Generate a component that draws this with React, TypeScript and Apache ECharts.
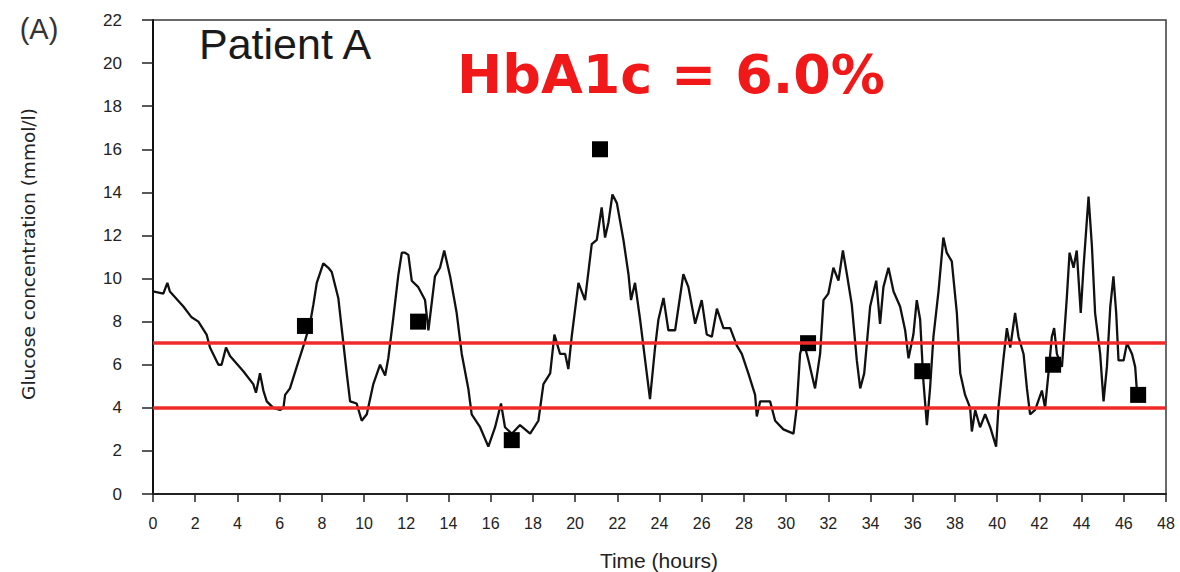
import React, { useEffect, useRef } from "react";
import * as echarts from "echarts";

const xTicks = [0, 48, 2];
const yTicks = [0, 22, 2];

const cgmHours = [
  0.0, 0.49, 0.68, 0.8, 1.44, 1.83, 2.15, 2.54, 2.7, 3.1, 3.25, 3.46, 3.65, 4.28, 4.75, 4.88, 5.07, 5.23, 5.39, 5.7,
  6.02, 6.18, 6.26, 6.49, 6.81, 7.2, 7.44, 7.6, 7.76, 8.07, 8.31, 8.47, 8.78, 8.94, 9.18, 9.34, 9.65, 9.89, 10.13,
  10.44, 10.76, 11.0, 11.15, 11.39, 11.63, 11.79, 11.94, 12.1, 12.26, 12.57, 12.89, 13.05, 13.36, 13.6, 13.8, 14.08,
  14.39, 14.63, 14.94, 15.1, 15.5, 15.89, 16.21, 16.49, 16.68, 17.0, 17.39, 17.87, 18.26, 18.5, 18.82, 19.02, 19.29,
  19.53, 19.68, 19.84, 20.16, 20.47, 20.79, 21.03, 21.26, 21.42, 21.58, 21.77, 21.98, 22.29, 22.53, 22.65, 22.84,
  23.08, 23.32, 23.55, 23.79, 23.95, 24.19, 24.42, 24.74, 25.13, 25.37, 25.69, 26.0, 26.24, 26.48, 26.72, 27.03,
  27.35, 27.66, 27.9, 28.21, 28.53, 28.61, 28.77, 29.24, 29.48, 29.87, 30.35, 30.5, 30.66, 30.82, 31.06, 31.37,
  31.61, 31.77, 32.0, 32.24, 32.48, 32.69, 32.88, 33.11, 33.35, 33.51, 33.7, 33.98, 34.27, 34.45, 34.61, 34.85,
  35.09, 35.4, 35.64, 35.8, 36.03, 36.19, 36.35, 36.5, 36.67, 36.82, 36.98, 37.22, 37.45, 37.61, 37.85, 38.09,
  38.25, 38.48, 38.72, 38.8, 38.96, 39.19, 39.43, 39.67, 39.95, 40.06, 40.3, 40.46, 40.62, 40.85, 41.01, 41.25,
  41.41, 41.56, 41.8, 42.12, 42.27, 42.43, 42.59, 42.7, 42.83, 43.07, 43.3, 43.43, 43.62, 43.77, 43.96, 44.09,
  44.33, 44.49, 44.64, 44.88, 45.04, 45.2, 45.36, 45.51, 45.64, 45.75, 45.99, 46.15, 46.39, 46.54, 46.62, 46.78,
];

const cgmGlucose = [
  9.4, 9.3, 9.8, 9.4, 8.7, 8.2, 8.0, 7.4, 6.8, 6.0, 6.0, 6.8, 6.4, 5.7, 5.1, 4.7, 5.6, 4.8, 4.3, 4.0,
  3.9, 4.0, 4.6, 4.9, 5.9, 7.1, 7.9, 8.8, 9.8, 10.7, 10.5, 10.3, 9.1, 7.7, 5.6, 4.3, 4.2, 3.4, 3.7,
  5.1, 6.0, 5.5, 6.3, 8.2, 10.2, 11.2, 11.2, 11.1, 9.9, 9.6, 9.0, 7.6, 10.1, 10.5, 11.3, 10.1,
  8.4, 6.5, 4.9, 3.7, 3.1, 2.2, 3.1, 4.2, 3.1, 2.8, 3.2, 2.8, 3.4, 5.1, 5.6, 7.4, 6.5,
  6.5, 5.8, 7.3, 9.8, 9.0, 11.6, 11.8, 13.3, 11.9, 12.6, 13.9, 13.5, 11.8, 10.2, 9.0, 9.8,
  8.1, 6.2, 4.4, 6.8, 8.1, 9.1, 7.6, 7.6, 10.2, 9.6, 7.9, 9.0, 7.4, 7.3, 8.6, 7.7,
  7.7, 6.9, 6.5, 5.6, 4.6, 3.6, 4.3, 4.3, 3.4, 3.0, 2.8, 4.0, 6.5, 7.1, 6.2, 4.9,
  6.5, 9.0, 9.3, 10.5, 9.9, 11.3, 10.2, 8.8, 6.2, 4.9, 5.6, 8.7, 9.9, 7.9, 9.6, 10.5,
  9.4, 8.7, 7.6, 6.3, 7.4, 9.0, 8.1, 5.3, 3.2, 4.9, 7.3, 9.4, 11.9, 11.2, 10.8, 8.4,
  5.6, 4.6, 4.0, 2.9, 3.9, 3.1, 3.7, 3.1, 2.2, 4.0, 6.3, 7.7, 6.8, 8.4, 7.3, 6.5,
  4.9, 3.7, 3.9, 4.8, 4.0, 5.6, 7.3, 7.7, 6.5, 5.9, 9.1, 11.2, 10.5, 11.3, 8.4, 10.5,
  13.8, 11.5, 8.4, 6.5, 4.3, 5.9, 8.7, 10.1, 8.4, 6.2, 6.2, 7.0, 6.5, 5.9, 4.8, 4.6,
];

const fingerHours = [7.2, 12.56, 17.0, 21.18, 31.04, 36.45, 42.65, 46.68];
const fingerGlucose = [7.8, 8.0, 2.5, 16.0, 7.0, 5.7, 6.0, 4.6];

const targetLimits = [7, 4];

const panelLabel = "(A)";
const patientLabel = "Patient A";
const hba1cLabel = "HbA1c = 6.0%";
const yTitle = "Glucose concentration (mmol/l)";
const xTitle = "Time (hours)";

export default function App() {
  const ref = useRef<HTMLDivElement>(null);

  useEffect(() => {
    if (!ref.current) return;
    const chart = echarts.init(ref.current, null, { renderer: "svg" });
    const font = "'Liberation Sans', Arial, Helvetica, sans-serif";
    chart.setOption({
      animation: false,
      backgroundColor: "#ffffff",
      grid: {
        left: 153,
        top: 20,
        right: 14,
        bottom: 78,
        show: true,
        borderColor: "#3a3a3a",
        borderWidth: 1.5,
      },
      xAxis: {
        type: "value",
        min: xTicks[0],
        max: xTicks[1],
        interval: xTicks[2],
        axisLine: { show: true, lineStyle: { color: "#222", width: 2 } },
        axisTick: { show: true, length: 8, inside: false, lineStyle: { color: "#222", width: 1.5 } },
        axisLabel: { color: "#222", fontSize: 16, fontFamily: font, margin: 21 },
        splitLine: { show: false },
      },
      yAxis: {
        type: "value",
        min: yTicks[0],
        max: yTicks[1],
        interval: yTicks[2],
        axisLine: { show: true, lineStyle: { color: "#111", width: 2 } },
        axisTick: { show: true, length: 11, inside: false, lineStyle: { color: "#222", width: 1.5 } },
        axisLabel: { color: "#222", fontSize: 17, fontFamily: font, margin: 31 },
        splitLine: { show: false },
      },
      graphic: [
        {
          type: "text",
          x: 39,
          y: 29,
          style: {
            text: panelLabel,
            fontSize: 29,
            fontFamily: font,
            fill: "#333",
            align: "center",
            verticalAlign: "middle",
          },
        },
        {
          type: "text",
          x: 199,
          y: 44,
          style: {
            text: patientLabel,
            fontSize: 43,
            fontFamily: font,
            fill: "#1a1a1a",
            align: "left",
            verticalAlign: "middle",
          },
        },
        {
          type: "text",
          x: 671,
          y: 74,
          z: 20,
          style: {
            text: hba1cLabel,
            fontSize: 54,
            fontWeight: "bold",
            fontFamily: "'DejaVu Sans', sans-serif",
            fill: "#f01818",
            align: "center",
            verticalAlign: "middle",
          },
        },
        {
          type: "text",
          x: 28,
          y: 254,
          rotation: Math.PI / 2,
          style: {
            text: yTitle,
            fontSize: 18.5,
            fontFamily: "'DejaVu Sans', sans-serif",
            fill: "#222",
            align: "center",
            verticalAlign: "middle",
          },
        },
        {
          type: "text",
          x: 659,
          y: 560,
          style: {
            text: xTitle,
            fontSize: 21,
            fontFamily: font,
            fill: "#222",
            align: "center",
            verticalAlign: "middle",
          },
        },
      ],
      series: [
        {
          type: "line",
          data: cgmHours.map((h, i) => [h, cgmGlucose[i]]),
          showSymbol: false,
          symbol: "none",
          lineStyle: { color: "#111", width: 2.3 },
          z: 2,
        },
        {
          type: "scatter",
          data: fingerHours.map((h, i) => [h, fingerGlucose[i]]),
          symbol: "rect",
          symbolSize: 16,
          itemStyle: { color: "#000", opacity: 1 },
          z: 3,
        },
        {
          type: "line",
          data: [],
          z: 10,
          markLine: {
            silent: true,
            symbol: "none",
            label: { show: false },
            lineStyle: { color: "#f02a2a", width: 3.5, type: "solid" },
            data: targetLimits.map((v) => ({ yAxis: v })),
          },
        },
      ],
    });
    return () => chart.dispose();
  }, []);

  return (
    <div
      ref={ref}
      style={{ position: "fixed", left: 0, top: 0, width: 1180, height: 572, background: "#fff" }}
    />
  );
}
